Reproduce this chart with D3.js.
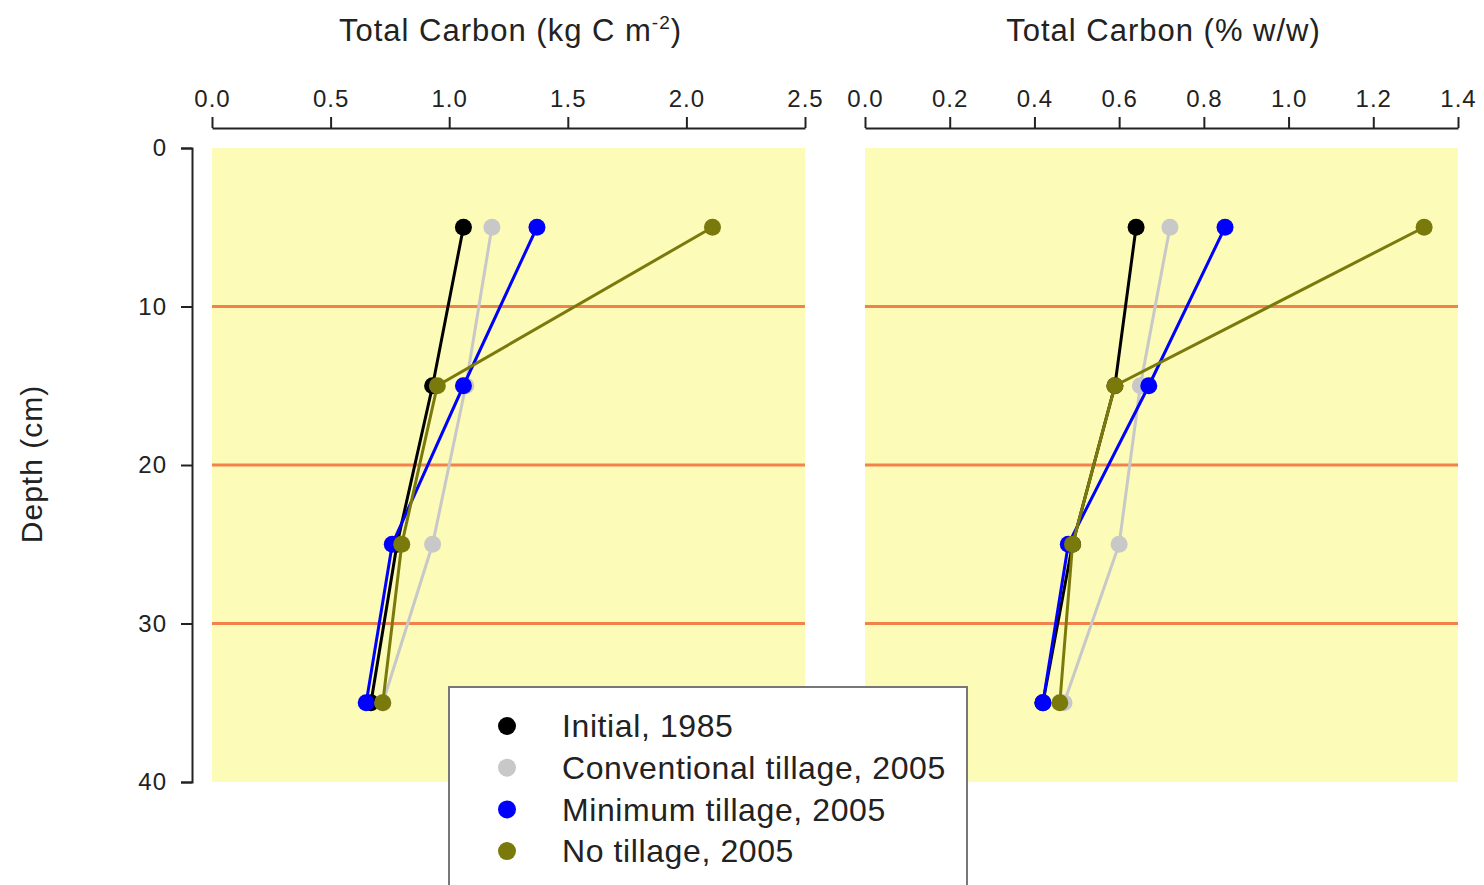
<!DOCTYPE html>
<html>
<head>
<meta charset="utf-8">
<script src="https://cdn.jsdelivr.net/npm/d3@7"></script>
<style>
  body { margin: 0; background: #fff; }
  text { font-family: "Liberation Sans", Arial, sans-serif; fill: #222; }
</style>
</head>
<body>
<div id="chart-area"></div>
<script>
// depths of sample midpoints (cm)
const depths = [5, 15, 25, 35]
const seriesNames = ["Initial, 1985", "Conventional tillage, 2005", "Minimum tillage, 2005", "No tillage, 2005"]
const seriesColors = ["#000000", "#c8c8c8", "#0000ff", "#7a7a0c"]

// Total carbon, kg C m-2
const kgInitial = [1.06, 0.93, 0.78, 0.67]
const kgConventional = [1.18, 1.07, 0.93, 0.72]
const kgMinimum = [1.37, 1.06, 0.76, 0.65]
const kgNoTill = [2.11, 0.95, 0.80, 0.72]

// Total carbon, % w/w
const pctInitial = [0.64, 0.59, 0.49, 0.42]
const pctConventional = [0.72, 0.65, 0.60, 0.47]
const pctMinimum = [0.85, 0.67, 0.48, 0.42]
const pctNoTill = [1.32, 0.59, 0.49, 0.46]

const depthTicks = [0, 10, 20, 30, 40]
const kgTicks = [0, 0.5, 1.0, 1.5, 2.0, 2.5]
const pctTicks = [0, 0.2, 0.4, 0.6, 0.8, 1.0, 1.2, 1.4]
const refLines = [10, 20, 30]

let svg = d3.select("#chart-area").append("svg")
  .attr("width", 1484)
  .attr("height", 885)

let y = d3.scaleLinear().domain([0, 40]).range([148, 782])

// depth axis
let yAxis = svg.append("g")
  .attr("transform", "translate(192,0)")
  .call(d3.axisLeft(y).tickValues(depthTicks).tickSize(11).tickPadding(14))
yAxis.selectAll("text").style("font-size", "24px").style("letter-spacing", "1px")
yAxis.selectAll("path, line").attr("stroke", "#222").attr("stroke-width", 2)

svg.append("text")
  .attr("transform", "translate(42,464) rotate(-90)")
  .attr("text-anchor", "middle")
  .style("font-size", "30px")
  .style("letter-spacing", "1px")
  .text("Depth (cm)")

const panels = [
  { x0: 212, x1: 805, max: 2.5, ticks: kgTicks, title: ["Total Carbon (kg C m", "-2", ")"],
    values: [kgInitial, kgConventional, kgMinimum, kgNoTill] },
  { x0: 865, x1: 1458, max: 1.4, ticks: pctTicks, title: ["Total Carbon (% w/w)"],
    values: [pctInitial, pctConventional, pctMinimum, pctNoTill] }
]

panels.forEach(p => {
  let x = d3.scaleLinear().domain([0, p.max]).range([p.x0, p.x1])

  svg.append("rect")
    .attr("x", p.x0).attr("y", y(0))
    .attr("width", p.x1 - p.x0).attr("height", y(40) - y(0))
    .attr("fill", "#fcfbb8")

  svg.selectAll(null).data(refLines).enter()
    .append("line")
      .attr("x1", p.x0).attr("x2", p.x1)
      .attr("y1", d => y(d)).attr("y2", d => y(d))
      .attr("stroke", "#f3824a").attr("stroke-width", 3)

  let xAxis = svg.append("g")
    .attr("transform", "translate(0,128)")
    .call(d3.axisTop(x).tickValues(p.ticks).tickFormat(d3.format(".1f")).tickSize(11).tickPadding(10).tickSizeOuter(0))
  xAxis.selectAll("text").style("font-size", "24px").style("letter-spacing", "1px")
  xAxis.selectAll("path, line").attr("stroke", "#222").attr("stroke-width", 2)

  let title = svg.append("text")
    .attr("x", (p.x0 + p.x1) / 2 + 2).attr("y", 41)
    .attr("text-anchor", "middle")
    .style("font-size", "31px")
    .style("letter-spacing", "1px")
  title.append("tspan").text(p.title[0])
  if (p.title.length > 1) {
    title.append("tspan").attr("dy", -12).style("font-size", "19px").text(p.title[1])
    title.append("tspan").attr("dy", 12).text(p.title[2])
  }

  let line = d3.line().x(d => x(d[0])).y(d => y(d[1]))

  p.values.forEach((vals, i) => {
    let pts = vals.map((v, j) => [v, depths[j]])
    svg.append("path")
      .attr("d", line(pts))
      .attr("fill", "none")
      .attr("stroke", seriesColors[i])
      .attr("stroke-width", 3)
    svg.selectAll(null).data(pts).enter()
      .append("circle")
        .attr("cx", d => x(d[0]))
        .attr("cy", d => y(d[1]))
        .attr("r", 8.5)
        .attr("fill", seriesColors[i])
  })
})

// legend
let legend = svg.append("g")
legend.append("rect")
  .attr("x", 449).attr("y", 687)
  .attr("width", 518).attr("height", 210)
  .attr("fill", "#fff").attr("stroke", "#777").attr("stroke-width", 2)

legend.selectAll("circle").data(seriesNames).enter()
  .append("circle")
    .attr("cx", 507)
    .attr("cy", (d, i) => 726 + i * 41.7)
    .attr("r", 9)
    .attr("fill", (d, i) => seriesColors[i])

legend.selectAll("text").data(seriesNames).enter()
  .append("text")
    .attr("x", 562)
    .attr("y", (d, i) => 726 + i * 41.7)
    .attr("dy", "0.35em")
    .style("font-size", "32px")
    .style("letter-spacing", "0.6px")
    .text(d => d)
</script>
</body>
</html>
